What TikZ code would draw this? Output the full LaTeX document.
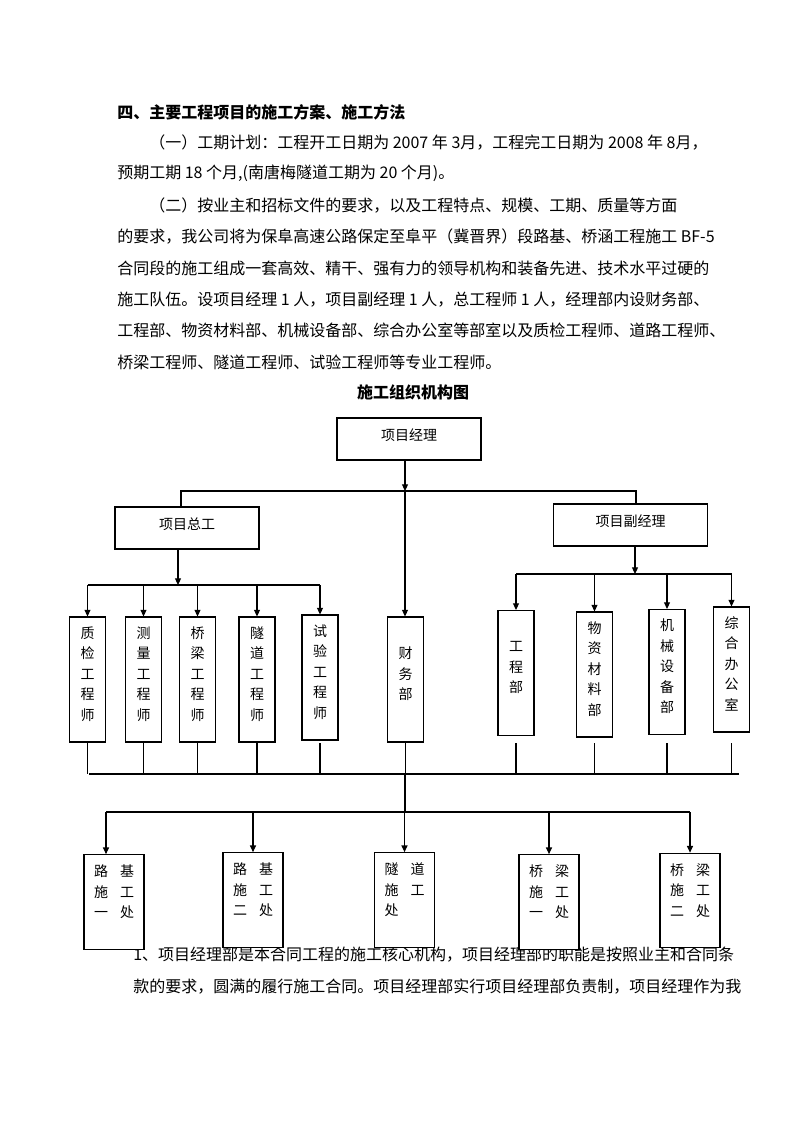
\documentclass[tikz,border=0pt]{standalone}
\usepackage{fontspec}
\setmainfont{Noto Sans CJK SC}
\usetikzlibrary{arrows.meta,positioning}
\tikzset{
    component/.style={
    rectangle,draw=black,fill=white,line width=0.8pt,inner sep=0pt,
    font=\fontsize{10.5pt}{12pt}\selectfont,text depth=6pt,
    minimum width=108pt,minimum height=31.5pt
    },
    wcomponent/.style={
    component,minimum width=116pt
    },
    column/.style={
    rectangle,draw=black,fill=white,line width=0.8pt,inner sep=0pt,align=center,
    font=\fontsize{10.5pt}{15.4pt}\selectfont,text depth=9pt,
    minimum width=27pt,minimum height=93.75pt
    },
    station/.style={
    rectangle,draw=black,fill=white,line width=0.8pt,inner sep=0pt,align=left,
    font=\fontsize{10.5pt}{15.5pt}\selectfont,text depth=16pt,
    minimum width=45pt,minimum height=71pt
    },
    bodyline/.style={
    anchor=west,inner sep=0pt,font=\fontsize{12pt}{14pt}\selectfont
    },
    headline/.style={
    bodyline,font=\fontsize{12pt}{14pt}\selectfont\bfseries
    },
    link/.style={line width=0.8pt},
    arrow/.style={link,-{Triangle[length=5pt,width=4.5pt]}},
}
\newcommand{\gap}{\hspace{9pt}}

\begin{document}
\begin{tikzpicture}[x=0.75pt,y=-0.75pt]
  \path[fill=white,use as bounding box] (0,0) rectangle (794,1123);

  % text of the page
  \node[headline] (h0) at (117,112) {四、主要工程项目的施工方案、施工方法};
  \node[bodyline] (p1) at (149,143) {（一）工期计划：工程开工日期为 2007 年 3月，工程完工日期为 2008 年 8月，};
  \node[bodyline] (p2) at (117,173) {预期工期 18 个月,(南唐梅隧道工期为 20 个月)。};
  \node[bodyline] (p3) at (149,206) {（二）按业主和招标文件的要求，以及工程特点、规模、工期、质量等方面};
  \node[bodyline] (p4) at (117,237) {的要求，我公司将为保阜高速公路保定至阜平（冀晋界）段路基、桥涵工程施工 BF-5};
  \node[bodyline] (p5) at (117,268) {合同段的施工组成一套高效、精干、强有力的领导机构和装备先进、技术水平过硬的};
  \node[bodyline] (p6) at (117,300) {施工队伍。设项目经理 1 人，项目副经理 1 人，总工程师 1 人，经理部内设财务部、};
  \node[bodyline] (p7) at (117,330) {工程部、物资材料部、机械设备部、综合办公室等部室以及质检工程师、道路工程师、};
  \node[bodyline] (p8) at (117,362) {桥梁工程师、隧道工程师、试验工程师等专业工程师。};
  \node[headline,anchor=center] (ct) at (413,392) {施工组织机构图};
  \node[bodyline] (p9) at (133,955) {1、项目经理部是本合同工程的施工核心机构，项目经理部的职能是按照业主和合同条};
  \node[bodyline] (p10) at (133,987) {款的要求，圆满的履行施工合同。项目经理部实行项目经理部负责制，项目经理作为我};

  % leaders
  \node[component] (pm) at (409,439) {项目经理};
  \node[component] (zg) at (187,528) {项目总工};
  \node[wcomponent] (fj) at (630.5,525) {项目副经理};

  % engineers and departments
  \node[column] (zj) at (87.5,679.5) {质\\检\\工\\程\\师};
  \node[column] (cl) at (143.5,679.5) {测\\量\\工\\程\\师};
  \node[column] (ql) at (197.5,679.5) {桥\\梁\\工\\程\\师};
  \node[column] (sd) at (257,679.5) {隧\\道\\工\\程\\师};
  \node[column] (sy) at (320,677.5) {试\\验\\工\\程\\师};
  \node[column] (cw) at (405.5,679.5) {财\\务\\部};
  \node[column] (gc) at (516,673) {工\\程\\部};
  \node[column] (wz) at (594.5,674.5) {物\\资\\材\\料\\部};
  \node[column] (jx) at (667,672) {机\\械\\设\\备\\部};
  \node[column] (zh) at (731.5,669.5) {综\\合\\办\\公\\室};

  % work sites
  \node[station] (lj1) at (114,902) {路\gap 基\\施\gap 工\\一\gap 处};
  \node[station] (lj2) at (253,900) {路\gap 基\\施\gap 工\\二\gap 处};
  \node[station] (sdc) at (404.5,900) {隧\gap 道\\施\gap 工\\处};
  \node[station] (ql1) at (549,902) {桥\gap 梁\\施\gap 工\\一\gap 处};
  \node[station] (ql2) at (690,900.5) {桥\gap 梁\\施\gap 工\\二\gap 处};

  \coordinate (topbar) at (405,491);
  \coordinate (tl) at (181,491);
  \coordinate (tr) at (636,491);
  \coordinate (lbar) at (178,585);
  \coordinate (rbar) at (635,574);
  \coordinate (tick) at (0,743);
  \coordinate (ml) at (89,774);
  \coordinate (mr) at (739,774);
  \coordinate (mbar) at (405,774);
  \coordinate (bbar) at (405,812);

  \draw[arrow] (pm.south -| topbar) -- (topbar);
  \draw[link] (zg.north -| tl) -- (tl) -- (tr) -- (fj.north -| tr);
  \draw[arrow] (topbar) -- (cw.north -| topbar);

  \draw[arrow] (zg.south -| lbar) -- (lbar);
  \draw[link] (zj.north |- lbar) -- (sy.north |- lbar);
  \foreach \b in {zj,cl,ql,sd,sy}
    \draw[arrow] (\b.north |- lbar) -- (\b.north);

  \draw[arrow] (fj.south -| rbar) -- (rbar);
  \draw[link] (gc.north |- rbar) -- (zh.north |- rbar);
  \foreach \b in {gc,wz,jx,zh}
    \draw[arrow] (\b.north |- rbar) -- (\b.north);

  \draw[link] (ml) -- (mr);
  \foreach \b in {zj,cl,ql,sd,sy,cw,gc,wz,jx,zh}
    \draw[link] (\b.south |- tick) -- (\b.south |- mbar);

  \draw[link] (mbar) -- (bbar);
  \draw[link] ([xshift=-6pt]lj1.north |- bbar) -- (ql2.north |- bbar);
  \draw[arrow] ([xshift=-6pt]lj1.north |- bbar) -- ([xshift=-6pt]lj1.north);
  \foreach \b in {lj2,sdc,ql1,ql2}
    \draw[arrow] (\b.north |- bbar) -- (\b.north);
\end{tikzpicture}
\end{document}
